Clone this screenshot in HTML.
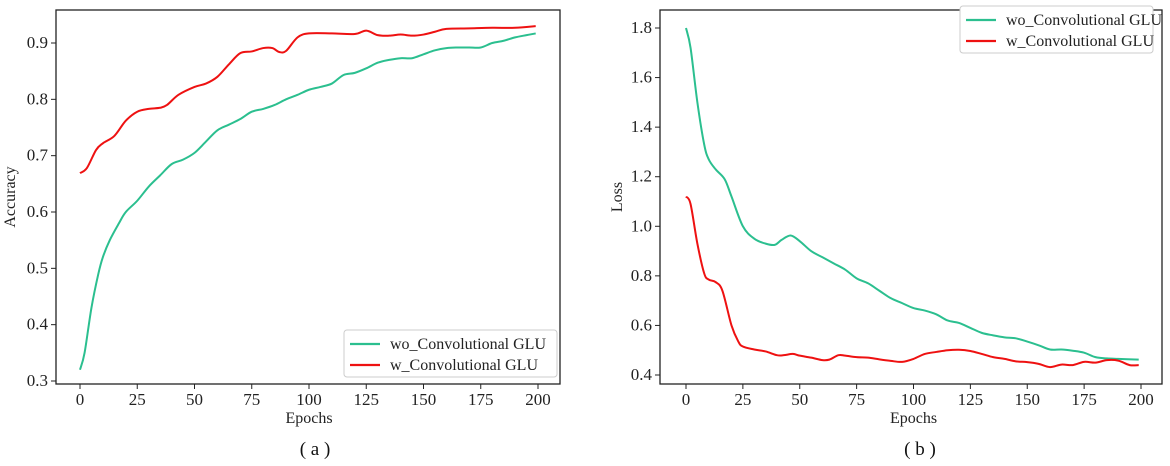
<!DOCTYPE html>
<html><head><meta charset="utf-8"><style>
body{margin:0;background:#fff;}
svg{display:block;font-family:"Liberation Serif",serif;}
</style></head><body>
<svg id="fig" width="1170" height="466" viewBox="0 0 1170 466"></svg>
<script>
const ticksX=[0,25,50,75,100,125,150,175,200];
const accTicks=[0.3,0.4,0.5,0.6,0.7,0.8,0.9];
const lossTicks=[0.4,0.6,0.8,1.0,1.2,1.4,1.6,1.8];
const accEpochs=[0,2,5,8,10,13,17,20,25,30,35,40,45,50,55,60,65,70,75,80,85,90,95,100,105,110,115,120,125,130,135,140,145,150,155,160,165,170,175,180,185,190,195,199];
const accWo=[0.32,0.35,0.43,0.49,0.52,0.55,0.58,0.60,0.62,0.645,0.665,0.685,0.693,0.705,0.725,0.745,0.755,0.765,0.778,0.783,0.79,0.80,0.808,0.817,0.822,0.828,0.843,0.847,0.855,0.865,0.87,0.873,0.873,0.88,0.887,0.891,0.892,0.892,0.892,0.90,0.904,0.91,0.914,0.917];
const accWEpochs=[0,3,7,10,15,20,25,30,35,38,43,50,55,60,65,70,75,80,84,87,90,95,100,110,120,125,130,135,140,145,150,155,160,170,180,190,199];
const accW=[0.669,0.678,0.71,0.722,0.735,0.762,0.778,0.783,0.785,0.79,0.808,0.822,0.828,0.84,0.862,0.882,0.885,0.891,0.891,0.884,0.886,0.91,0.917,0.917,0.916,0.922,0.914,0.913,0.915,0.913,0.915,0.92,0.925,0.926,0.927,0.927,0.93];
const lossWoEpochs=[0,2,5,8,10,13,17,20,25,30,35,39,42,46,50,55,60,65,70,75,80,85,90,95,100,105,110,115,120,125,130,135,140,145,150,155,160,165,170,175,180,185,190,199];
const lossWo=[1.80,1.72,1.50,1.33,1.27,1.23,1.19,1.12,1.00,0.95,0.93,0.925,0.945,0.963,0.94,0.90,0.875,0.85,0.825,0.79,0.77,0.74,0.71,0.69,0.67,0.66,0.645,0.62,0.61,0.59,0.57,0.56,0.552,0.548,0.535,0.52,0.503,0.503,0.498,0.49,0.472,0.467,0.465,0.462];
const lossWEpochs=[0,2,5,8,10,13,16,20,23,25,30,35,40,43,47,50,55,60,63,67,70,75,80,85,90,95,100,105,110,115,120,125,130,135,140,145,150,155,160,165,170,175,180,185,190,195,199];
const lossW=[1.12,1.09,0.93,0.81,0.785,0.775,0.74,0.60,0.535,0.515,0.503,0.495,0.48,0.48,0.485,0.478,0.47,0.46,0.462,0.48,0.478,0.472,0.47,0.463,0.457,0.453,0.465,0.485,0.493,0.50,0.502,0.497,0.485,0.472,0.465,0.455,0.452,0.445,0.432,0.442,0.44,0.453,0.45,0.46,0.458,0.44,0.44];

const NS="http://www.w3.org/2000/svg";
const svg=document.getElementById('fig');
function mk(tag,attrs,parent,text){const e=document.createElementNS(NS,tag);for(const k in attrs)e.setAttribute(k,attrs[k]);if(text!==undefined)e.textContent=text;(parent||svg).appendChild(e);return e;}
function smooth(pts){let d="M"+pts[0][0]+","+pts[0][1];for(let i=0;i<pts.length-1;i++){const p0=pts[i-1]||pts[i],p1=pts[i],p2=pts[i+1],p3=pts[i+2]||p2;d+=" C"+(p1[0]+(p2[0]-p0[0])/6)+","+(p1[1]+(p2[1]-p0[1])/6)+" "+(p2[0]-(p3[0]-p1[0])/6)+","+(p2[1]-(p3[1]-p1[1])/6)+" "+p2[0]+","+p2[1];}return d;}

function panel(o){
  const g=mk('g',{});
  
  
  const sx=v=>o.x0+(v-0)*(o.x200-o.x0)/200;
  const sy=v=>o.yA+(v-o.vA)*(o.yB-o.yA)/(o.vB-o.vA);
  const frame=mk('rect',{x:o.L,y:o.T,width:o.R-o.L,height:o.B-o.T,fill:'none',stroke:'#222','stroke-width':1.3},g);
  
  ticksX.forEach(t=>{const x=sx(t);mk('line',{x1:x,x2:x,y1:o.B,y2:o.B+5,stroke:'#222'},g);
    const tx=mk('text',{x:x,y:o.B+21,'text-anchor':'middle','font-size':17,fill:'#222'},g,String(t));
    });
  o.yt.forEach(t=>{const y=sy(t);mk('line',{x1:o.L-5,x2:o.L,y1:y,y2:y,stroke:'#222'},g);
    const tx=mk('text',{x:o.L-8,y:y+5,'text-anchor':'end','font-size':17,fill:'#222'},g,t.toFixed(1));
    });
  const xt=mk('text',{x:(sx(0)+sx(200))/2,y:o.B+39,'text-anchor':'middle','font-size':16,fill:'#222'},g,'Epochs');
  
  const yt=mk('text',{x:0,y:0,'text-anchor':'middle','font-size':16,fill:'#222',transform:`translate(${o.ylx},${(o.T+o.B)/2}) rotate(-90)`},g,o.ylabel);
  
  o.series.forEach(s=>{const p=mk('path',{d:smooth(s.x.map((e,i)=>[sx(e),sy(s.y[i])])),fill:'none',stroke:s.c,'stroke-width':2},g);
    });
  const lg=mk('g',{},g);
  mk('rect',{x:o.lx,y:o.ly,width:o.lw,height:47,rx:3,fill:'#fff',stroke:'#ccc'},lg);
  o.series.forEach((s,i)=>{const y=o.ly+14+i*21;mk('line',{x1:o.lx+6,x2:o.lx+36,y1:y,y2:y,stroke:s.c,'stroke-width':2.2},lg);
    const t=mk('text',{x:o.lx+46,y:y+5,'font-size':16,fill:'#222'},lg,s.label);});
  const cap=mk('text',{x:o.capx,y:455,'text-anchor':'middle','font-size':19,fill:'#111'},g,o.cap);
  
}
const G='#2bbf8f',Rd='#ee1111';
panel({name:'accuracy-chart',L:56,R:560,T:10,B:384,x0:80,x200:538,yA:381,vA:0.3,yB:43,vB:0.9,yt:accTicks,ylabel:'Accuracy',ylx:15,
  lx:344,ly:330,lw:213,capx:315,cap:'( a )',
  series:[{x:accEpochs,y:accWo,c:G,n:'accuracy-wo-line',label:'wo_Convolutional GLU'},{x:accWEpochs,y:accW,c:Rd,n:'accuracy-w-line',label:'w_Convolutional GLU'}]});
panel({name:'loss-chart',L:660,R:1162,T:10,B:384,x0:686,x200:1141,yA:375,vA:0.4,yB:28,vB:1.8,yt:lossTicks,ylabel:'Loss',ylx:622,
  lx:960,ly:6,lw:193,capx:920,cap:'( b )',
  series:[{x:lossWoEpochs,y:lossWo,c:G,n:'loss-wo-line',label:'wo_Convolutional GLU'},{x:lossWEpochs,y:lossW,c:Rd,n:'loss-w-line',label:'w_Convolutional GLU'}]});
</script>
</body></html>
